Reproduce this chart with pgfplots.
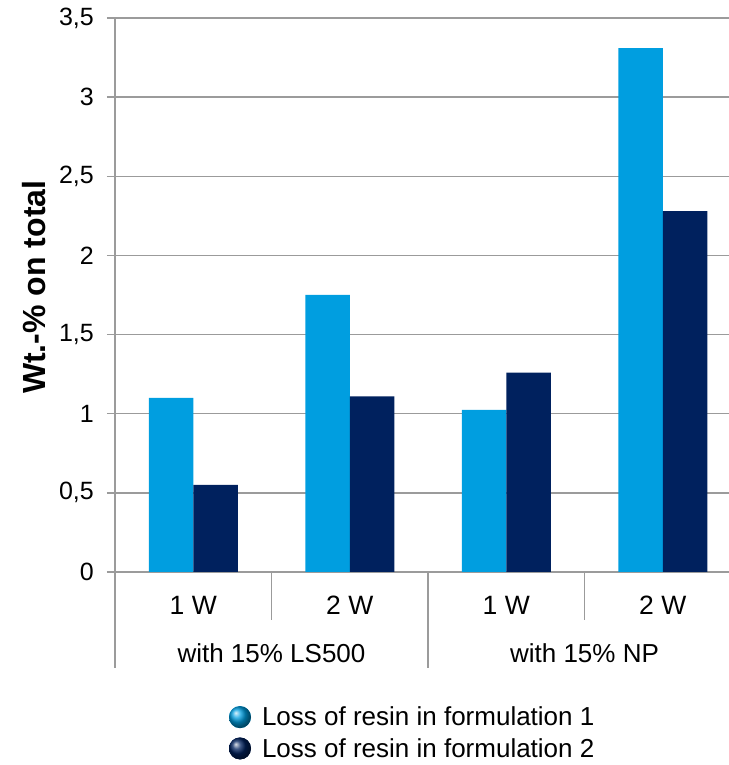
\documentclass[border=0pt]{standalone}
\usepackage{fontspec}
\setmainfont{Liberation Sans}
\usepackage{pgfplots}
\pgfplotsset{compat=1.18}
\definecolor{cA}{RGB}{0,158,224}
\definecolor{cB}{RGB}{0,33,94}
\definecolor{gridc}{RGB}{155,155,155}
\begin{document}
\begin{tikzpicture}
\begin{axis}[
  at={(115pt,193pt)}, anchor=south west,
  scale only axis, width=626pt, height=554pt,
  xmin=-0.5, xmax=3.5, ymin=0, ymax=3.5,
  clip=false,
  ybar=0pt, bar width=44.5pt,
  axis x line*=bottom, axis y line*=left,
  axis line style={gridc, line width=1.5pt, -},
  ymajorgrids, grid style={gridc, line width=1.5pt},
  ytick={0,0.5,1,1.5,2,2.5,3,3.5},
  /pgf/number format/use comma,
  /pgf/number format/assume math mode=true,
  tick align=outside, major tick length=8pt,
  ytick style={gridc, line width=1.5pt},
  xtick style={draw=none},
  yticklabel style={font=\fontsize{25}{25}\selectfont, inner sep=0pt, anchor=east, xshift=-13pt},
  xtick={0,1,2,3},
  xticklabels={1 W,2 W,1 W,2 W},
  xticklabel style={font=\fontsize{26.5}{26.5}\selectfont, anchor=center, yshift=-25pt},
  ylabel={Wt.-\% on total},
  ylabel style={font=\fontsize{32}{32}\selectfont\bfseries, at={(axis description cs:-0.13,0.514)}, anchor=center},
  legend style={at={(axis description cs:0.177,-0.236)}, anchor=north west, draw=none, fill=none,
    font=\fontsize{26}{26}\selectfont, row sep=7pt, column sep=9pt},
  legend cell align=left,
]
\addplot[fill=cA, draw=none, legend image code/.code={\shade[ball color=cA] (11pt,0pt) circle (11pt);}]
  coordinates {(0,1.10) (1,1.75) (2,1.025) (3,3.31)};
\addlegendentry{Loss of resin in formulation 1}
\addplot[fill=cB, draw=none, legend image code/.code={\shade[ball color=cB] (11pt,0pt) circle (11pt);}]
  coordinates {(0,0.55) (1,1.11) (2,1.26) (3,2.28)};
\addlegendentry{Loss of resin in formulation 2}
\draw[gridc, line width=1.5pt] (axis cs:-0.5,0) -- ++(0pt,-96pt);
\draw[gridc, line width=1.5pt] (axis cs:1.5,0) -- ++(0pt,-96pt);
\draw[gridc, line width=1.5pt] (axis cs:3.5,0) -- ++(0pt,-96pt);
\draw[gridc, line width=1.5pt] (axis cs:0.5,0) -- ++(0pt,-48pt);
\draw[gridc, line width=1.5pt] (axis cs:2.5,0) -- ++(0pt,-48pt);
\node[font=\fontsize{26}{26}\selectfont] at (axis cs:0.5,0) [yshift=-81pt] {with 15\% LS500};
\node[font=\fontsize{26}{26}\selectfont] at (axis cs:2.5,0) [yshift=-81pt] {with 15\% NP};
\end{axis}
\pgfresetboundingbox
\path[use as bounding box] (0,0) rectangle (728pt,765pt);
\end{tikzpicture}
\end{document}
